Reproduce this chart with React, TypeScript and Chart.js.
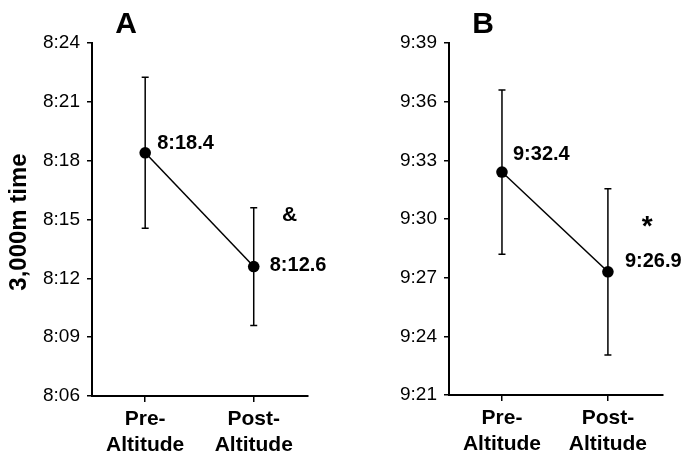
import React, { useEffect, useRef } from "react";
import { Chart, registerables } from "chart.js";

Chart.register(...registerables);

// ---- data ----
const categories: string[][] = [["Pre-", "Altitude"], ["Post-", "Altitude"]];
const categoryPositions = [0, 1];

const panelATimes = [498.4, 492.6]; // seconds
const panelAErrors = [3.85, 3.0];
const panelALabels = ["8:18.4", "8:12.6"];
const panelATicks = [486, 489, 492, 495, 498, 501, 504];

const panelBTimes = [572.4, 567.3];
const panelBErrors = [4.2, 4.25];
const panelBLabels = ["9:32.4", "9:26.9"];
const panelBTicks = [561, 564, 567, 570, 573, 576, 579];

const yAxisTitle = "3,000m time";
const panelATitle = "A";
const panelBTitle = "B";
const panelASignificance = { text: "&", x: 1.33, y: 495.2 };
const panelBSignificance = { text: "*", x: 1.37, y: 569.6 };

// ---- style / layout ----
const FONT = "'Liberation Sans', Arial, Helvetica, sans-serif";
const BLACK = "#000";

const fmtTime = (s: number) => {
  const m = Math.floor(s / 60);
  const sec = Math.round(s - m * 60);
  return `${m}:${String(sec).padStart(2, "0")}`;
};

interface PanelCfg {
  times: number[];
  errors: number[];
  labels: string[];
  ticks: number[];
  title: string;
  sig: { text: string; x: number; y: number };
  sigFont: string;
  labelOffsets: { dx: number; dy: number }[];
  yWidth: number;
  xHeight: number;
  padRight: number;
  showYTitle: boolean;
  xMin: number;
  xMax: number;
}

function makeChart(canvas: HTMLCanvasElement, p: PanelCfg) {
  const overlay = {
    id: "overlay",
    beforeDatasetsDraw(chart: any) {
      const { ctx, scales } = chart;
      const xs = scales.x;
      const ys = scales.y;
      ctx.save();
      ctx.strokeStyle = BLACK;
      ctx.lineWidth = 1.5;
      p.times.forEach((t, i) => {
        const x = xs.getPixelForValue(categoryPositions[i]);
        const yTop = ys.getPixelForValue(t + p.errors[i]);
        const yBot = ys.getPixelForValue(t - p.errors[i]);
        ctx.beginPath();
        ctx.moveTo(x, yTop);
        ctx.lineTo(x, yBot);
        ctx.moveTo(x - 3.5, yTop);
        ctx.lineTo(x + 3.5, yTop);
        ctx.moveTo(x - 3.5, yBot);
        ctx.lineTo(x + 3.5, yBot);
        ctx.stroke();
      });
      ctx.restore();
    },
    afterDraw(chart: any) {
      const { ctx, scales, chartArea } = chart;
      const xs = scales.x;
      const ys = scales.y;
      ctx.save();
      ctx.fillStyle = BLACK;
      // value labels
      ctx.font = `bold 20px ${FONT}`;
      ctx.textAlign = "left";
      ctx.textBaseline = "middle";
      p.labels.forEach((lab, i) => {
        const x = xs.getPixelForValue(categoryPositions[i]);
        const y = ys.getPixelForValue(p.times[i]);
        ctx.fillText(lab, x + p.labelOffsets[i].dx, y + p.labelOffsets[i].dy);
      });
      // significance marker
      ctx.font = p.sigFont;
      ctx.textAlign = "center";
      ctx.fillText(p.sig.text, xs.getPixelForValue(p.sig.x), ys.getPixelForValue(p.sig.y));
      // panel letter
      ctx.font = `bold 30px ${FONT}`;
      ctx.fillText(p.title, chartArea.left + 34, 25);
      // y-axis title
      if (p.showYTitle) {
        ctx.translate(19, 222);
        ctx.rotate(-Math.PI / 2);
        ctx.font = `bold 24px ${FONT}`;
        ctx.fillText(yAxisTitle, 0, 0);
      }
      ctx.restore();
    },
  };

  return new Chart(canvas, {
    type: "line",
    data: {
      datasets: [
        {
          data: p.times.map((t, i) => ({ x: categoryPositions[i], y: t })),
          borderColor: BLACK,
          borderWidth: 1.5,
          pointRadius: 5.8,
          pointBackgroundColor: BLACK,
          pointBorderColor: BLACK,
          pointBorderWidth: 0,
          tension: 0,
          fill: false,
        },
      ],
    },
    options: {
      responsive: false,
      animation: false,
      devicePixelRatio: 1,
      layout: { padding: { top: 43, right: p.padRight, left: 0, bottom: 0 } },
      plugins: { legend: { display: false }, tooltip: { enabled: false } },
      scales: {
        x: {
          type: "linear",
          min: p.xMin,
          max: p.xMax,
          afterBuildTicks: (s: any) => {
            s.ticks = categoryPositions.map((v) => ({ value: v }));
          },
          afterFit: (s: any) => {
            s.height = p.xHeight;
          },
          ticks: {
            callback: (v: any) => categories[categoryPositions.indexOf(Number(v))] ?? "",
            font: { family: FONT, size: 21, weight: "bold", lineHeight: 1.2 },
            color: BLACK,
            padding: 5,
            maxRotation: 0,
            autoSkip: false,
          },
          grid: { drawOnChartArea: false, drawTicks: true, tickLength: 6, color: BLACK, lineWidth: 1.5 },
          border: { display: true, color: BLACK, width: 2 },
        },
        y: {
          type: "linear",
          min: p.ticks[0],
          max: p.ticks[p.ticks.length - 1],
          afterBuildTicks: (s: any) => {
            s.ticks = p.ticks.map((v) => ({ value: v }));
          },
          afterFit: (s: any) => {
            s.width = p.yWidth;
          },
          ticks: {
            callback: (v: any) => fmtTime(Number(v)),
            font: { family: FONT, size: 19 },
            color: BLACK,
            padding: 7,
          },
          grid: { drawOnChartArea: false, drawTicks: true, tickLength: 5, color: BLACK, lineWidth: 1.5 },
          border: { display: true, color: BLACK, width: 2 },
        },
      },
    } as any,
    plugins: [overlay],
  });
}

export default function App() {
  const refA = useRef<HTMLCanvasElement>(null);
  const refB = useRef<HTMLCanvasElement>(null);

  useEffect(() => {
    const a = makeChart(refA.current!, {
      times: panelATimes,
      errors: panelAErrors,
      labels: panelALabels,
      ticks: panelATicks,
      title: panelATitle,
      sig: panelASignificance,
      sigFont: `bold 21px ${FONT}`,
      labelOffsets: [
        { dx: 12, dy: -9 },
        { dx: 16, dy: -1 },
      ],
      yWidth: 92,
      xHeight: 58,
      padRight: 34,
      showYTitle: true,
      xMin: -0.49,
      xMax: 1.5,
    });
    const b = makeChart(refB.current!, {
      times: panelBTimes,
      errors: panelBErrors,
      labels: panelBLabels,
      ticks: panelBTicks,
      title: panelBTitle,
      sig: panelBSignificance,
      sigFont: `bold 28px ${FONT}`,
      labelOffsets: [
        { dx: 11, dy: -18 },
        { dx: 17, dy: -10 },
      ],
      yWidth: 107,
      xHeight: 59,
      padRight: 21,
      showYTitle: false,
      xMin: -0.5,
      xMax: 1.52,
    });
    return () => {
      a.destroy();
      b.destroy();
    };
  }, []);

  return (
    <div style={{ position: "absolute", left: 0, top: 0, width: 684, height: 454, background: "#fff" }}>
      <canvas ref={refA} width={342} height={454} style={{ position: "absolute", left: 0, top: 0, width: 342, height: 454 }} />
      <canvas ref={refB} width={342} height={454} style={{ position: "absolute", left: 342, top: 0, width: 342, height: 454 }} />
    </div>
  );
}
